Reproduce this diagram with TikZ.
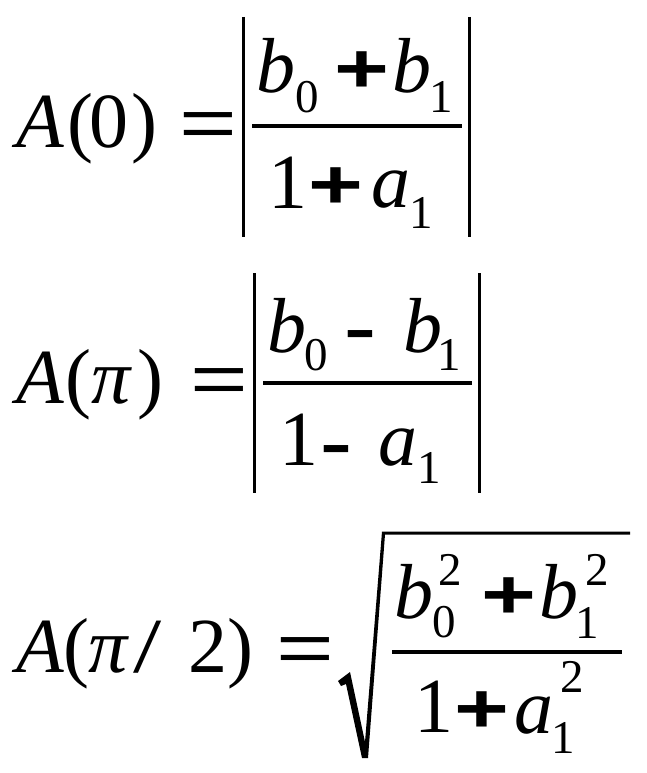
\documentclass[tikz,border=0pt]{standalone}
\usepackage{fontspec}
\setmainfont{Liberation Serif}
\newfontfamily\opfont{Liberation Sans}
\newcommand\gl[5]{\node[g,#4] (#1) at (#2,#3) {#5};}
\newcommand\opeq{\scalebox{1}[0.72]{\fontsize{99}{99}\selectfont\opfont =}}
\newcommand\opplus{\scalebox{1}[0.74]{\fontsize{94}{94}\selectfont\opfont\bfseries +}}
\newcommand\opminus{\scalebox{1}[0.62]{\fontsize{96}{96}\selectfont\opfont\bfseries -}}
\newcommand\opslash{\scalebox{1.3}[1]{/}}
\tikzset{
  g/.style={anchor=base,inner sep=0pt,outer sep=0pt},
  mit/.style={font=\fontsize{78}{78}\selectfont\itshape},
  mup/.style={font=\fontsize{78}{78}\selectfont},
  scr/.style={font=\fontsize{47}{47}\selectfont},
  op/.style={font=\opfont},
  bar/.style={line width=3pt},
  fbar/.style={line width=3.2pt}
}
\begin{document}
\begin{tikzpicture}[x=1pt,y=-1pt]
\useasboundingbox[fill=white] (0,0) rectangle (647,773);
% Row 1
\gl{aA}{40}{147}{mit}{A}
\gl{aL}{80}{147}{mup}{(}
\gl{aZ}{108.5}{147}{mup}{0}
\gl{aR}{144}{147}{mup}{)}
\gl{aE}{208.5}{147}{op}{\opeq}
\draw[bar] (243,17) -- (243,237);
\draw[bar] (469,17) -- (469,237);
\draw[fbar] (252,126) -- (462,126);
\gl{ab0}{276}{93}{mit}{b}
\gl{as0}{307}{113}{scr}{0}
\gl{aP}{362}{93}{op}{\opplus}
\gl{ab1}{412}{93}{mit}{b}
\gl{as1}{441}{113}{scr}{1}
\gl{aone}{288}{208}{mup}{1}
\gl{aP2}{336}{208}{op}{\opplus}
\gl{aa}{391}{207}{mit}{a}
\gl{aas}{421}{228}{scr}{1}
% Row 2
\gl{bA}{40}{403}{mit}{A}
\gl{bL}{78}{403}{mup}{(}
\gl{bpi}{111}{403}{mit}{π}
\gl{bR}{150}{403}{mup}{)}
\gl{bE}{219.5}{403}{op}{\opeq}
\draw[bar] (254,273) -- (254,493);
\draw[bar] (479,273) -- (479,493);
\draw[fbar] (263,383) -- (472,383);
\gl{bb0}{286.5}{352}{mit}{b}
\gl{bs0}{316}{370}{scr}{0}
\gl{bM}{360}{349}{op}{\opminus}
\gl{bb1}{422.5}{352}{mit}{b}
\gl{bs1}{449}{370}{scr}{1}
\gl{bone}{299}{465}{mup}{1}
\gl{bM2}{336.5}{464}{op}{\opminus}
\gl{ba}{398}{465}{mit}{a}
\gl{bas}{429.5}{483}{scr}{1}
% Row 3
\gl{cA}{40}{672}{mit}{A}
\gl{cL}{76}{672}{mup}{(}
\gl{cpi}{108}{672}{mit}{π}
\gl{cS}{148}{672}{mup}{\opslash}
\gl{cT}{207.5}{672}{mup}{2}
\gl{cR}{240}{672}{mup}{)}
\gl{cE}{305}{672}{op}{\opeq}
\fill (338,681) -- (350,672) -- (365,742) -- (382,531.5) -- (630,531.5) -- (630,534.5) -- (385,534.5) -- (368,758) -- (362,758) -- (346,684) -- (341,686) -- cycle;
\draw[fbar] (392,652) -- (622,652);
\gl{cb0}{414}{618}{mit}{b}
\gl{cs0}{444}{637}{scr}{0}
\gl{cu0}{450}{585}{scr}{2}
\gl{cP}{508.5}{618}{op}{\opplus}
\gl{cb1}{559}{618}{mit}{b}
\gl{cs1}{587}{638}{scr}{1}
\gl{cu1}{597}{585}{scr}{2}
\gl{cone}{434}{732}{mup}{1}
\gl{cP2}{481.5}{732}{op}{\opplus}
\gl{ca}{534}{733}{mit}{a}
\gl{cau}{572}{692}{scr}{2}
\gl{cas}{563}{753}{scr}{1}
\end{tikzpicture}
\end{document}
